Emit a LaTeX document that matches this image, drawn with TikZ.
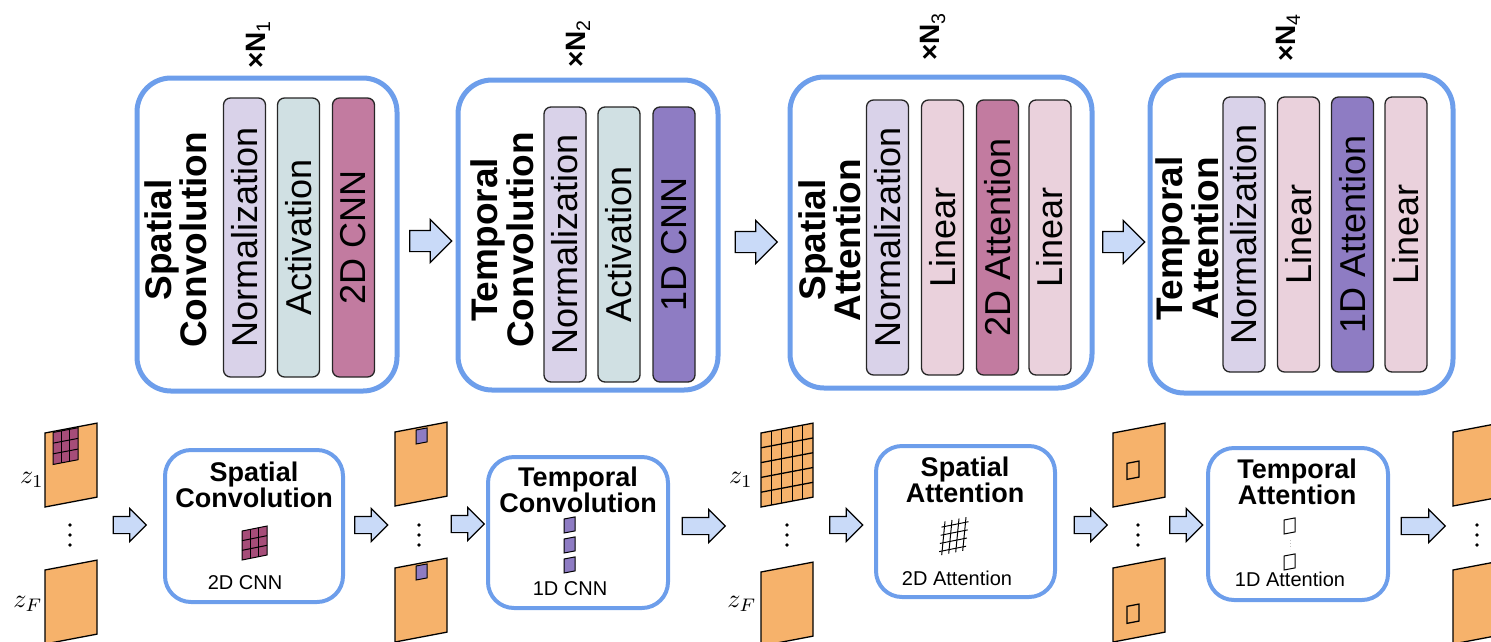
\documentclass[tikz,border=0pt]{standalone}
\usepackage{fontspec}
\setmainfont{Liberation Sans}
\usetikzlibrary{shapes.arrows}

\begin{document}
\begin{tikzpicture}
[ x = 1pt, y = -1pt,
  stage/.style         = {draw = stageblue, line width = 5pt, rounded corners = 34pt},
  substage/.style      = {draw = stageblue, line width = 4pt, rounded corners = 26pt},
  layerbar/.style      = {draw = black!85, line width = 1.3pt, rounded corners = 7pt, rotate = 90,
                          minimum height = 42pt, inner sep = 0pt, font = \fontsize{36}{36}\selectfont},
  stagetitle/.style    = {rotate = 90, align = center, inner sep = 0pt, font = \fontsize{37}{32}\selectfont\bfseries},
  substagetitle/.style = {anchor = north, align = center, inner sep = 0pt, font = \fontsize{27}{22}\selectfont\bfseries},
  opname/.style        = {anchor = base, inner sep = 0pt, font = \fontsize{20}{20}\selectfont},
  repeatlabel/.style   = {rotate = 90, inner sep = 0pt, font = \fontsize{28}{28}\selectfont\bfseries},
  latent/.style        = {inner sep = 0pt},
  bigarrow/.style      = {single arrow, draw, fill = arrowcol, line width = 1.2pt, inner sep = 10pt,
                          single arrow head extend = 11pt, minimum height = 42pt},
  smallarrow/.style    = {bigarrow, inner sep = 8pt, single arrow head extend = 8pt, minimum height = 33pt},
]

% Define colors
\definecolor{stageblue}{HTML}{6D9EEB}
\definecolor{normcol}{HTML}{D9D2E9}
\definecolor{actcol}{HTML}{D0E0E3}
\definecolor{spatcol}{HTML}{C27BA0}
\definecolor{tempcol}{HTML}{8E7CC3}
\definecolor{lincol}{HTML}{EAD1DC}
\definecolor{framecol}{HTML}{F6B26B}
\definecolor{arrowcol}{HTML}{C9DAF8}
\definecolor{kernelcol}{HTML}{A64D79}

\useasboundingbox (0,0) rectangle (1491,641);

% latent frame, #1 #2 = top left corner, #3 = what sits on it
\newcommand{\zframe}[3]{\begin{scope}[shift = {(#1,#2)}, yslant = 0.19, line width = 1.3pt]
  \filldraw[fill = framecol] (0,0) rectangle (52,74); #3 \end{scope}}
\newcommand{\framedots}[1]{\foreach \d in {525,535,545} \fill (#1,\d) circle (1.8pt);}
\newcommand{\zlabel}[1]{\scalebox{2.6}{$z_#1$}}

%%%%%%%%%%% SPATIAL CONVOLUTION
\node[stage, minimum width = 260pt, minimum height = 313pt] (sconv) at (267,234.5) {};
\node[stagetitle] (sconvtitle) at (176,240) {Spatial\\Convolution};
\node[layerbar, fill = normcol, minimum width = 279pt] (sconvnorm) at (244.5,237.5) {Normalization};
\node[layerbar, fill = actcol,  minimum width = 279pt] (sconvact)  at (298.5,237.5) {Activation};
\node[layerbar, fill = spatcol, minimum width = 279pt] (sconvcnn)  at (353.5,237.5) {2D CNN};
\node[repeatlabel] (nsconv) at (258,45) {×N\textsubscript{\mdseries 1}};

%%%%%%%%%%% TEMPORAL CONVOLUTION
\node[stage, minimum width = 260pt, minimum height = 310pt] (tconv) at (588,235) {};
\node[stagetitle] (tconvtitle) at (502.5,240) {Temporal\\Convolution};
\node[layerbar, fill = normcol, minimum width = 275pt] (tconvnorm) at (565,244.5) {Normalization};
\node[layerbar, fill = actcol,  minimum width = 275pt] (tconvact)  at (619,244.5) {Activation};
\node[layerbar, fill = tempcol, minimum width = 275pt] (tconvcnn)  at (674,244.5) {1D CNN};
\node[repeatlabel] (ntconv) at (578,44) {×N\textsubscript{\mdseries 2}};

%%%%%%%%%%% SPATIAL ATTENTION
\node[stage, minimum width = 302pt, minimum height = 311pt] (satt) at (941,232.5) {};
\node[stagetitle] (satttitle) at (830,240) {Spatial\\Attention};
\node[layerbar, fill = normcol, minimum width = 275pt] (sattnorm) at (887.5,237.5) {Normalization};
\node[layerbar, fill = lincol,  minimum width = 275pt] (sattlin)  at (942.5,237.5) {Linear};
\node[layerbar, fill = spatcol, minimum width = 275pt] (sattattn) at (997.5,237.5) {2D Attention};
\node[layerbar, fill = lincol,  minimum width = 275pt] (sattout)  at (1050,237.5) {Linear};
\node[repeatlabel] (nsatt) at (933,37) {×N\textsubscript{\mdseries 3}};

%%%%%%%%%%% TEMPORAL ATTENTION
\node[stage, minimum width = 303pt, minimum height = 318pt] (tatt) at (1301.5,234) {};
\node[stagetitle] (tatttitle) at (1187.5,238.5) {Temporal\\Attention};
\node[layerbar, fill = normcol, minimum width = 275pt] (tattnorm) at (1244,234.5) {Normalization};
\node[layerbar, fill = lincol,  minimum width = 275pt] (tattlin)  at (1298.5,234.5) {Linear};
\node[layerbar, fill = tempcol, minimum width = 275pt] (tattattn) at (1352.5,234.5) {1D Attention};
\node[layerbar, fill = lincol,  minimum width = 275pt] (tattout)  at (1406,234.5) {Linear};
\node[repeatlabel] (ntatt) at (1288,38) {×N\textsubscript{\mdseries 4}};

\node[bigarrow] (sconvtotconv) at (425.5,241) {};
\node[bigarrow] (tconvtosatt)  at (751,242) {};
\node[bigarrow] (satttotatt)   at (1118.5,242) {};

%%%%%%%%%%% FRAMES z_1 ... z_F
\node[latent] (zin1) at (32,480) {\zlabel{1}};
\node[latent] (zinF) at (28,604) {\zlabel{F}};
\zframe{45}{433}{\filldraw[fill = kernelcol, line width = 1pt] (8,1) rectangle (33,33);
  \foreach \i in {1,2} {\draw[line width = 1pt] (8+\i*25/3,1) -- (8+\i*25/3,33);
                        \draw[line width = 1pt] (8,1+\i*32/3) -- (33,1+\i*32/3);}}
\zframe{45}{570}{}
\framedots{70}

\node[smallarrow] (a1) at (125.5,525) {};
\node[substage, minimum width = 178pt, minimum height = 152pt] (sconvbox) at (254,526) {};
\node[substagetitle] (sconvname) at (254,462) {Spatial\\Convolution};
\begin{scope}[shift = {(242,531)}, yslant = 0.2, line width = 1pt]
  \filldraw[fill = kernelcol] (0,0) rectangle (25,29);
  \foreach \i in {1,2} {\draw (\i*25/3,0) -- (\i*25/3,29); \draw (0,\i*29/3) -- (25,\i*29/3);}
\end{scope}
\node[opname] (sconvop) at (245,589) {2D CNN};
\node[smallarrow] (a2) at (367,525) {};

\zframe{395}{432}{\filldraw[fill = tempcol, line width = 1pt] (21,2) rectangle (32,16);}
\zframe{395}{568}{\filldraw[fill = tempcol, line width = 1pt] (21,2) rectangle (32,16);}
\framedots{419}

\node[smallarrow] (a3) at (463.5,524) {};
\node[substage, minimum width = 180pt, minimum height = 151pt] (tconvbox) at (578,532.5) {};
\node[substagetitle] (tconvname) at (578,467) {Temporal\\Convolution};
\begin{scope}[shift = {(564,519)}, yslant = 0.19, line width = 1pt]
  \foreach \i in {0,1,2} \filldraw[fill = tempcol] (0,\i*20) rectangle (11,\i*20+14);
\end{scope}
\node[opname] (tconvop) at (570,595) {1D CNN};
\node[smallarrow, minimum height = 43pt] (a4) at (699.5,526) {};

\node[latent] (zmid1) at (741,480) {\zlabel{1}};
\node[latent] (zmidF) at (742,604) {\zlabel{F}};
\zframe{761}{433}{\foreach \i in {1,...,4} {\draw (\i*10.4,0) -- (\i*10.4,74); \draw (0,\i*14.8) -- (52,\i*14.8);}}
\zframe{761}{572}{}
\framedots{787}

\node[smallarrow] (a5) at (842,525) {};
\node[substage, minimum width = 179pt, minimum height = 151pt] (sattbox) at (965.5,521.5) {};
\node[substagetitle] (sattname) at (965,457) {Spatial\\Attention};
\begin{scope}[shift = {(942,522)}, yslant = 0.2, xslant = 0.1, line width = 1pt]
  \foreach \i in {0,1,2,3} {\draw (3+\i*7,0) -- (3+\i*7,33); \draw (0,5+\i*8) -- (27,5+\i*8);}
\end{scope}
\node[opname] (sattop) at (957,585) {2D Attention};
\node[smallarrow] (a6) at (1086.5,525) {};

\zframe{1113}{433}{\draw (14,33) rectangle (26,49);}
\zframe{1113}{568}{\draw (14,41) rectangle (26,58);}
\framedots{1138}

\node[smallarrow] (a7) at (1182,525) {};
\node[substage, minimum width = 180pt, minimum height = 152pt] (tattbox) at (1298,524) {};
\node[substagetitle] (tattname) at (1297,459) {Temporal\\Attention};
\begin{scope}[shift = {(1284,520)}, yslant = 0.19, line width = 1pt]
  \draw (0,0) rectangle (11,14);
  \draw (0,36) rectangle (11,50);
  \draw[gray!50, dotted] (6,21) -- (6,30);
\end{scope}
\node[opname] (tattop) at (1290,586) {1D Attention};
\node[smallarrow, minimum height = 44pt] (a8) at (1419,526) {};

\zframe{1453}{432}{}
\zframe{1453}{570}{}
\framedots{1477}

\end{tikzpicture}
\end{document}
